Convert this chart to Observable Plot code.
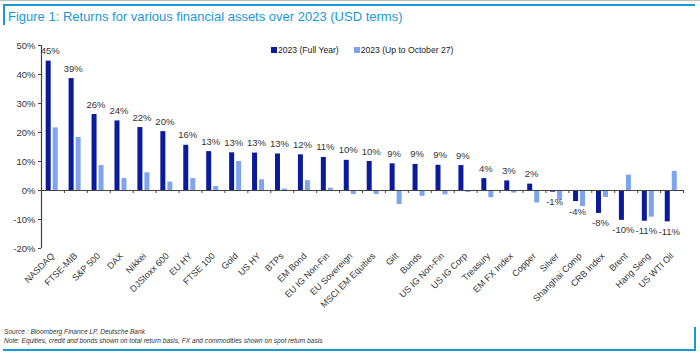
<!DOCTYPE html>
<html>
<head>
<meta charset="utf-8">
<script src="https://cdn.jsdelivr.net/npm/d3@7"></script>
<script src="https://cdn.jsdelivr.net/npm/@observablehq/plot@0.6"></script>
<style>
  html, body { margin: 0; padding: 0; background: #fff; }
  #page { position: relative; width: 700px; height: 353px; overflow: hidden; font-family: "Liberation Sans", Arial, sans-serif; }
  #chart { position: absolute; left: 0; top: 0; }
  .abs { position: absolute; }
  #title { left: 8px; top: 9px; font-family: "Liberation Sans Narrow", "Arial Narrow", "Liberation Sans", sans-serif; font-stretch: condensed; font-size: 13px; color: #1A97D5; white-space: nowrap; }
  #legend { left: 271px; top: 45px; font-size: 8.6px; color: #222; white-space: nowrap; display: flex; align-items: center; }
  #legend .item { display: flex; align-items: center; margin-right: 15px; }
  #legend .sw { width: 6px; height: 6px; margin-right: 1px; }
  #source { left: 4px; top: 327px; font-size: 6.6px; font-style: italic; color: #333; line-height: 9px; white-space: nowrap; }
</style>
</head>
<body>
<div id="page">
  <div id="chart"></div>
  <div class="abs" style="left:0;top:0;width:700px;height:1px;background:#bdbdbd"></div>
  <div class="abs" style="left:3px;top:4px;width:692px;height:2px;background:#1A97D5"></div>
  <div class="abs" style="left:3px;top:4px;width:2px;height:21px;background:#1A97D5"></div>
  <div class="abs" id="title"></div>
  <div class="abs" id="legend"></div>
  <div class="abs" id="source"></div>
  <div class="abs" style="left:694px;top:327px;width:2px;height:23px;background:#1A97D5"></div>
  <div class="abs" style="left:3px;top:349px;width:693px;height:2px;background:#1A97D5"></div>
</div>
<script>
const titleText = "Figure 1: Returns for various financial assets over 2023 (USD terms)";
const sourceLines = [
  "Source : Bloomberg Finance LP, Deutsche Bank",
  "Note: Equities, credit and bonds shown on total return basis, FX and commodities shown on spot return basis"
];
const categories = ["NASDAQ","FTSE-MIB","S&P 500","DAX","Nikkei","DJStoxx 600","EU HY","FTSE 100","Gold","US HY","BTPs","EM Bond","EU IG Non-Fin","EU Sovereign","MSCI EM Equities","Gilt","Bunds","US IG Non-Fin","US IG Corp","Treasury","EM FX Index","Copper","Silver","Shanghai Comp","CRB Index","Brent","Hang Seng","US WTI Oil"];
const fullYear = [44.6,38.6,26.2,24.0,21.7,20.3,15.6,13.4,13.0,12.9,12.6,12.3,11.4,10.4,10.0,9.2,9.0,8.7,8.6,4.1,3.3,2.2,-0.6,-3.8,-7.9,-10.3,-10.6,-10.8];
const toOct27 = [21.6,18.3,8.6,4.1,6.1,2.9,4.1,1.4,10.0,3.7,0.5,3.4,0.8,-1.4,-1.4,-4.8,-2.0,-1.5,-0.7,-2.5,-0.9,-4.3,-3.4,-5.5,-2.4,5.3,-9.2,6.6];
const seriesNames = ["2023 (Full Year)", "2023 (Up to October 27)"];
const seriesColors = ["#0A1C9C", "#7EA4EE"];
const yTicks = [-20,-10,0,10,20,30,40,50];

const data = categories.map((name, i) => ({name, full: fullYear[i], oct: toOct27[i]}));

const W = 700, H = 353, mL = 41, mR = 17, mT = 45, mB = 105;
const bw = (W - mL - mR) / categories.length;
const barW = 5, gap = 2, lead = 4.7;
const axisColor = "#444";
const textColor = "#333";
const labelDx = lead + barW / 2 - bw / 2 + 1.5;

const chart = Plot.plot({
  width: W, height: H,
  marginLeft: mL, marginRight: mR, marginTop: mT, marginBottom: mB,
  style: {fontFamily: "'Liberation Sans', Arial, sans-serif", background: "transparent"},
  x: {type: "band", domain: categories, padding: 0, round: false, label: null},
  y: {domain: [-20, 50], label: null},
  marks: [
    Plot.barY(data, {x: "name", y: "full", fill: seriesColors[0], insetLeft: lead, insetRight: bw - lead - barW}),
    Plot.barY(data, {x: "name", y: "oct", fill: seriesColors[1], insetLeft: lead + barW + gap, insetRight: bw - lead - 2 * barW - gap}),
    Plot.ruleY([0], {stroke: axisColor, strokeWidth: 1.2}),
    Plot.ruleX(categories, {x: d => d, y1: 0, y2: 0, insetBottom: -3, dx: -bw / 2, stroke: axisColor}),
    Plot.ruleX(categories.slice(-1), {x: d => d, y1: 0, y2: 0, insetBottom: -3, dx: bw / 2, stroke: axisColor}),
    Plot.ruleX(categories.slice(0, 1), {x: d => d, y1: yTicks[0], y2: yTicks[yTicks.length - 1], dx: -bw / 2, stroke: axisColor, strokeWidth: 1.2}),
    Plot.axisY({ticks: yTicks, tickFormat: d => d + "%", tickSize: 3, tickPadding: 3, fontSize: 9.5, color: textColor, stroke: axisColor}),
    Plot.axisX({tickSize: 0, tickRotate: -45, tickPadding: 6, fontSize: 9, color: textColor}),
    Plot.text(data.filter(d => d.full >= 0), {x: "name", y: "full", text: d => Math.round(d.full) + "%", dy: -10, dx: labelDx, fontSize: 9.5, fill: textColor}),
    Plot.text(data.filter(d => d.full < 0), {x: "name", y: "full", text: d => Math.round(d.full) + "%", dy: 10, dx: labelDx, fontSize: 9.5, fill: textColor})
  ]
});
document.getElementById("chart").appendChild(chart);

document.getElementById("title").textContent = titleText;
const legend = document.getElementById("legend");
seriesNames.forEach((n, i) => {
  const item = document.createElement("div");
  item.className = "item";
  const sw = document.createElement("span");
  sw.className = "sw";
  sw.style.background = seriesColors[i];
  const t = document.createElement("span");
  t.textContent = n;
  item.appendChild(sw); item.appendChild(t);
  legend.appendChild(item);
});
document.getElementById("source").innerHTML = sourceLines.map(s => s.replace(/&/g, "&amp;")).join("<br>");
</script>
</body>
</html>
